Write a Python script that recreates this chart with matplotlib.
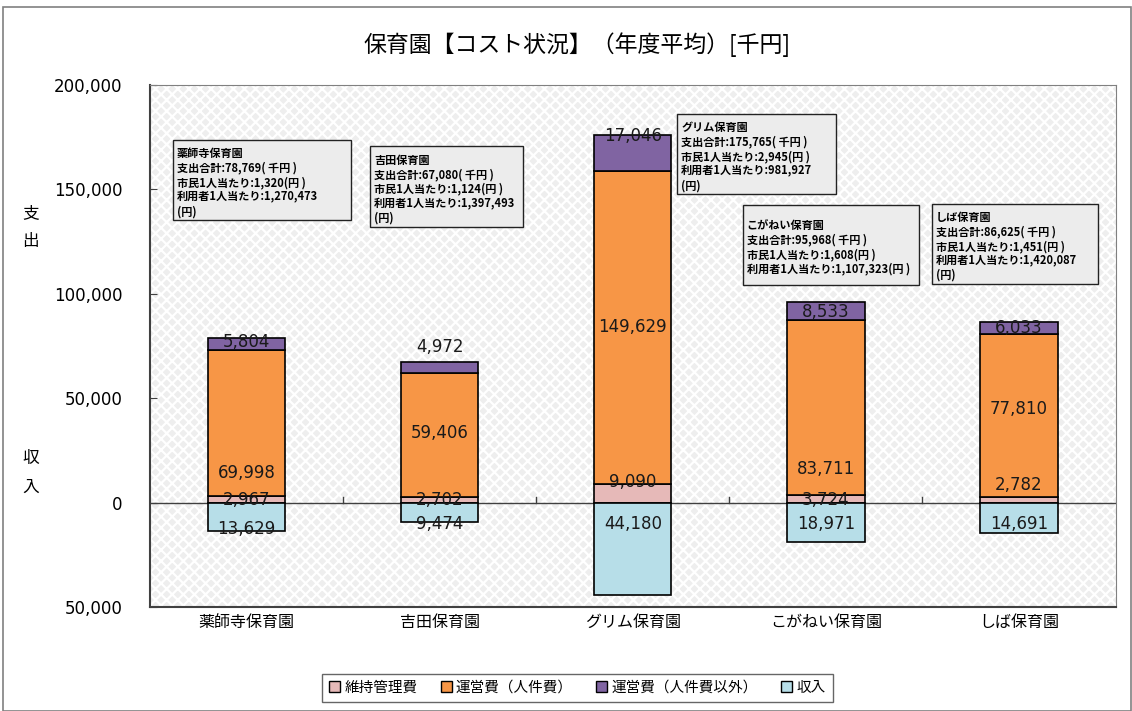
import matplotlib
matplotlib.use("Agg")
import matplotlib.pyplot as plt
from matplotlib.patches import Rectangle, Patch
from matplotlib.ticker import FuncFormatter

plt.rcParams['font.family'] = ['Noto Sans CJK JP', 'DejaVu Sans']
plt.rcParams['hatch.linewidth'] = 1.6

# data
categories = ['薬師寺保育園', '吉田保育園', 'グリム保育園', 'こがねい保育園', 'しば保育園']
maintenance = [2967, 2702, 9090, 3724, 2782]          # 維持管理費
personnel = [69998, 59406, 149629, 83711, 77810]      # 運営費（人件費）
other_ops = [5804, 4972, 17046, 8533, 6033]           # 運営費（人件費以外）
income = [13629, 9474, 44180, 18971, 14691]           # 収入

series_names = ['維持管理費', '運営費（人件費）', '運営費（人件費以外）', '収入']
colors = ['#e6b9b8', '#f79646', '#8064a2', '#b7dee8']

box_texts = [
    '薬師寺保育園\n支出合計:78,769( 千円 )\n市民1人当たり:1,320(円 )\n利用者1人当たり:1,270,473\n(円)',
    '吉田保育園\n支出合計:67,080( 千円 )\n市民1人当たり:1,124(円 )\n利用者1人当たり:1,397,493\n(円)',
    'グリム保育園\n支出合計:175,765( 千円 )\n市民1人当たり:2,945(円 )\n利用者1人当たり:981,927\n(円)',
    'こがねい保育園\n支出合計:95,968( 千円 )\n市民1人当たり:1,608(円 )\n利用者1人当たり:1,107,323(円 )',
    'しば保育園\n支出合計:86,625( 千円 )\n市民1人当たり:1,451(円 )\n利用者1人当たり:1,420,087\n(円)',
]

# label placement (y in data units), as laid out in the original sheet
lab_y_maint = [1500, 1500, 10000, 1500, 8500]
lab_y_pers = [14000, 33500, 84000, 16000, 45000]
lab_y_other = [77000, 74500, 175500, 91000, 83500]
lab_y_inc = [-12500, -10000, -10000, -10000, -10000]
# callout boxes: left, top, right (x in category units, y in data units)
box_pos = [(-0.38, 173500, 0.54), (0.64, 170500, 1.43), (2.23, 186000, 3.05),
           (2.57, 142500, 3.48), (3.55, 143000, 4.41)]
box_h = 38500

fig = plt.figure(figsize=(11.32, 7.11), dpi=100)
fig.patches.append(Rectangle((0.003, 0.0), 0.996, 0.99, transform=fig.transFigure,
                             fill=False, edgecolor='#808080', linewidth=1.2))
ax = fig.add_axes([0.1325, 0.146, 0.853, 0.735])
# diamond-pattern plot area
ax.add_patch(Rectangle((0, 0), 1, 1, transform=ax.transAxes, facecolor='#eeeeee',
                       edgecolor='white', hatch='xxx', linewidth=0, zorder=0))

x = range(len(categories))
w = 0.4
neg_income = [-v for v in income]
bottom2 = [m + p for m, p in zip(maintenance, personnel)]
ax.bar(x, maintenance, w, color=colors[0], edgecolor='black', linewidth=1.2, zorder=3)
ax.bar(x, personnel, w, bottom=maintenance, color=colors[1], edgecolor='black', linewidth=1.2, zorder=3)
ax.bar(x, other_ops, w, bottom=bottom2, color=colors[2], edgecolor='black', linewidth=1.2, zorder=3)
ax.bar(x, neg_income, w, color=colors[3], edgecolor='black', linewidth=1.2, zorder=3)

ax.axhline(0, color='#404040', linewidth=1, zorder=2)

for i in x:
    for vals, ys in ((maintenance, lab_y_maint), (personnel, lab_y_pers),
                     (other_ops, lab_y_other), (income, lab_y_inc)):
        ax.text(i, ys[i], f'{vals[i]:,}', ha='center', va='center', fontsize=12,
                color='#1a1a1a', zorder=5, family=['DejaVu Sans'])
    bl, bt, br = box_pos[i]
    ax.add_patch(Rectangle((bl, bt - box_h), br - bl, box_h, facecolor='#ececec',
                           edgecolor='#222222', linewidth=1, zorder=6))
    ax.text(bl + 0.02, bt - box_h / 2 - 1200, box_texts[i], ha='left', va='center',
            fontsize=8, fontweight='bold', linespacing=1.15, zorder=7)

ax.set_xlim(-0.5, 4.5)
ax.set_ylim(-50000, 200000)
ax.set_yticks(range(-50000, 200001, 50000))
ax.yaxis.set_major_formatter(FuncFormatter(lambda v, p: f'{abs(int(v)):,}'))
ax.tick_params(axis='y', labelsize=12, length=5, direction='in', pad=20, color='#404040')
ax.set_xticks(list(x))
ax.set_xticklabels(categories, fontsize=11.5)
ax.tick_params(axis='x', length=0, pad=5)
for lbl in ax.get_yticklabels():
    lbl.set_family(['DejaVu Sans'])
for s in ax.spines.values():
    s.set_color('#808080')
ax.spines['left'].set_color('#404040')
ax.spines['bottom'].set_color('#404040')
ax.spines['left'].set_linewidth(1.5)
ax.spines['bottom'].set_linewidth(1.5)

# tick marks between categories on the zero line
for b in [0.5, 1.5, 2.5, 3.5]:
    ax.plot([b, b], [0, 2500], color='#404040', linewidth=1, zorder=2)

fig.text(0.51, 0.937, '保育園【コスト状況】（年度平均）[千円]', ha='center', va='center', fontsize=16.5)
fig.text(0.027, 0.68, '支\n出', ha='center', va='center', fontsize=12, linespacing=1.9)
fig.text(0.027, 0.335, '収\n入', ha='center', va='center', fontsize=12, linespacing=1.9)

handles = [Patch(facecolor=c, edgecolor='black') for c in colors]
leg = fig.legend(handles, series_names, loc='center', bbox_to_anchor=(0.51, 0.0325), ncol=4,
                 fontsize=10.5, frameon=True, fancybox=False, edgecolor='#404040',
                 handlelength=0.75, handleheight=0.75, handletextpad=0.3, columnspacing=1.6,
                 borderpad=0.5)
leg.get_frame().set_linewidth(1)

fig.savefig('out.png', dpi=100)
